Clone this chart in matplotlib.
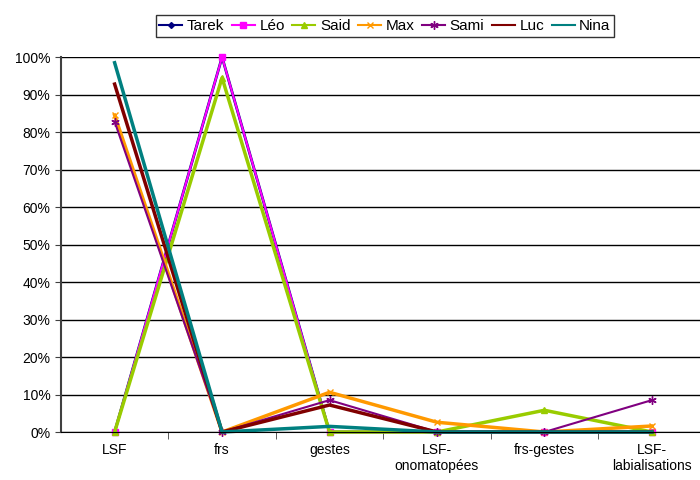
import matplotlib
matplotlib.use('Agg')
import matplotlib.pyplot as plt
from matplotlib.ticker import FuncFormatter, FixedLocator
import numpy as np

plt.rcParams['font.family'] = ['Liberation Sans', 'DejaVu Sans']

categories = ['LSF', 'frs', 'gestes', 'LSF-\nonomatopées', 'frs-gestes', 'LSF-\nlabialisations']

tarek = [0, 100, 0, 0, 0, 0]
leo   = [0, 100, 0, 0, 0, 0]
said  = [0, 94.5, 0, 0, 5.8, 0]
max_  = [84.5, 0, 10.6, 2.6, 0, 1.6]
sami  = [82.8, 0, 8.5, 0, 0, 8.5]
luc   = [92.8, 0, 7.2, 0, 0, 0]
nina  = [98.5, 0, 1.5, 0, 0, 0]

series = [
    ('Tarek', tarek, '#000080', 'D', 2.0, 3),
    ('Léo', leo, '#FF00FF', 's', 1.5, 4),
    ('Said', said, '#99CC00', '^', 2.5, 5),
    ('Max', max_, '#FF9900', 'x', 2.5, 5),
    ('Sami', sami, '#800080', (6, 2, 0), 1.5, 6),
    ('Luc', luc, '#800000', None, 2.5, 0),
    ('Nina', nina, '#008080', None, 2.5, 0),
]

fig = plt.figure(figsize=(7, 4.8), dpi=100)
ax = fig.add_axes([0.087, 0.1, 0.921, 0.781])

x = np.arange(len(categories))
for name, vals, col, mk, lw, ms in series:
    ax.plot(x, vals, color=col, lw=lw, marker=mk, markersize=ms,
            markeredgewidth=1.0, label=name, clip_on=False)

ax.set_xlim(-0.5, 5.5)
ax.set_ylim(0, 100)
ax.set_yticks(np.arange(0, 101, 10))
ax.yaxis.set_major_formatter(FuncFormatter(lambda v, p: '%d%%' % v))
ax.yaxis.grid(True, color='black', lw=1)
ax.set_axisbelow(True)

ax.set_xticks(x)
ax.set_xticklabels(categories, fontsize=10)
ax.tick_params(axis='x', which='major', length=0, pad=8)
ax.xaxis.set_minor_locator(FixedLocator(np.arange(0.5, 5, 1)))
ax.tick_params(axis='x', which='minor', length=5, direction='out', color='#404040')
ax.tick_params(axis='y', labelsize=10, length=4, color='#404040')

for s in ['top', 'right']:
    ax.spines[s].set_visible(False)
ax.spines['left'].set_color('#404040')
ax.spines['left'].set_linewidth(1.5)
ax.spines['bottom'].set_color('black')

leg = fig.legend(loc='upper center', bbox_to_anchor=(0.550, 0.975), ncol=7,
                 fontsize=11, frameon=True, fancybox=False, handlelength=1.5,
                 handletextpad=0.3, columnspacing=0.5, borderpad=0.25,
                 borderaxespad=0.2)
leg.get_frame().set_edgecolor('black')
leg.get_frame().set_linewidth(1)
for h in leg.get_lines():
    h.set_linewidth(1.5)

plt.savefig('out.png', dpi=100)
